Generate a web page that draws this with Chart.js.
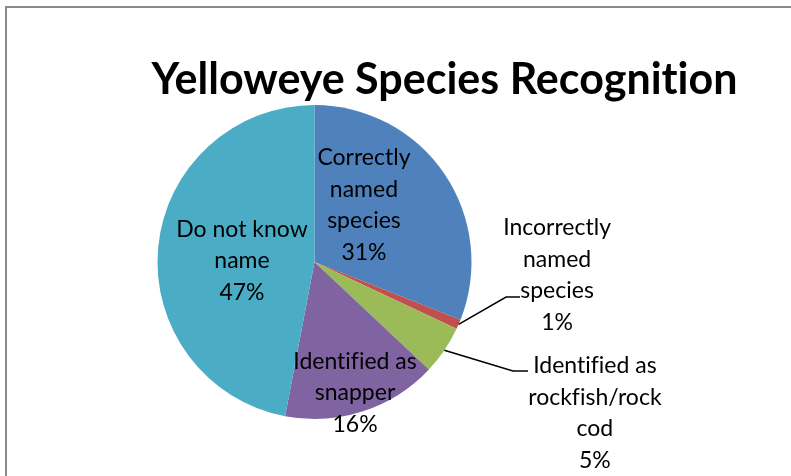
<!DOCTYPE html>
<html>
<head>
<meta charset="utf-8">
<title>Yelloweye Species Recognition</title>
<script src="https://cdn.jsdelivr.net/npm/chart.js@4.4.0/dist/chart.umd.min.js"></script>
<style>
  html, body { margin: 0; padding: 0; background: #fff; width: 791px; height: 476px; overflow: hidden; }
  #caption { position: absolute; left: 20px; top: -24px; font: bold 21px/21px "Liberation Serif", serif; white-space: nowrap; color: #000; }
  #frame { position: absolute; left: 5px; top: 6px; width: 830px; height: 520px; border: 2px solid #8a8a8a; box-sizing: border-box; }
  #wrap { position: absolute; left: 0; top: 0; width: 791px; height: 476px; }
</style>
</head>
<body>
<div id="caption">Figure 9. Yelloweye Rockfish Species Recognition (by type)</div>
<div id="frame"></div>
<div id="wrap"><canvas id="pie" width="791" height="476"></canvas></div>
<script>
'use strict';

var chartTitle = "Yelloweye Species Recognition";
var categories = [
  ["Correctly", "named", "species"],
  ["Incorrectly", "named", "species"],
  ["Identified as", "rockfish/rock", "cod"],
  ["Identified as", "snapper"],
  ["Do not know", "name"]
];
var shares = [31, 1, 5, 16, 47];
var sliceColors = ["#4F81BD", "#C0504D", "#9BBB59", "#8064A2", "#4BACC6"];

// where each label sits, in pie radii from the centre; leader = [elbow, end]
var labelSpots = [
  { at: [0.315, -0.363] },
  { at: [1.545, 0.083], leader: [[1.220, 0.223], [1.309, 0.223]] },
  { at: [1.786, 0.962], leader: [[1.264, 0.694], [1.360, 0.694]] },
  { at: [0.258, 0.834] },
  { at: [-0.462, -0.006] }
];

var labelFont = '23px Lato, "Open Sans", sans-serif';
var lineStep = 31.5;

// Lato joins "fi"/"ti" into ligatures, keep the letters apart
function noLig(s) {
  return s.replace(/([ft])(?=i)/g, "$1\u200C");
}

var pieLabels = {
  id: "pieLabels",
  afterDatasetsDraw: function (chart) {
    var ctx = chart.ctx;
    var meta = chart.getDatasetMeta(0);
    var data = chart.data.datasets[0].data;
    var total = data.reduce(function (a, b) { return a + b; }, 0);

    ctx.save();
    // chart title
    ctx.fillStyle = "#000";
    ctx.font = 'bold 43px Lato, "Open Sans", sans-serif';
    ctx.textAlign = "center";
    ctx.textBaseline = "alphabetic";
    ctx.fillText(noLig(chartTitle), 444.5, 94);

    ctx.font = labelFont;
    ctx.textBaseline = "middle";
    meta.data.forEach(function (arc, i) {
      var p = arc.getProps(["x", "y", "startAngle", "endAngle", "outerRadius"], true);
      var r = p.outerRadius;
      var spot = labelSpots[i];
      var lx = p.x + spot.at[0] * r;
      var ly = p.y + spot.at[1] * r;

      if (spot.leader) {
        var mid = (p.startAngle + p.endAngle) / 2;
        ctx.strokeStyle = "#000";
        ctx.lineWidth = 1.5;
        ctx.beginPath();
        ctx.moveTo(p.x + Math.cos(mid) * r, p.y + Math.sin(mid) * r);
        spot.leader.forEach(function (pt) {
          ctx.lineTo(p.x + pt[0] * r, p.y + pt[1] * r);
        });
        ctx.stroke();
      }

      var lines = chart.data.labels[i].concat([Math.round(data[i] / total * 100) + "%"]);
      var top = ly - (lines.length - 1) * lineStep / 2;
      ctx.fillStyle = "#000";
      lines.forEach(function (t, k) {
        ctx.fillText(noLig(t), lx, top + k * lineStep);
      });
    });
    ctx.restore();
  }
};

new Chart(document.getElementById("pie"), {
  type: "pie",
  data: {
    labels: categories,
    datasets: [{
      data: shares,
      backgroundColor: sliceColors,
      borderWidth: 0
    }]
  },
  options: {
    responsive: false,
    animation: false,
    rotation: 0,
    layout: { padding: { left: 157.5, right: 319.5, top: 105, bottom: 57 } },
    plugins: {
      legend: { display: false },
      tooltip: { enabled: false },
      title: { display: false }
    }
  },
  plugins: [pieLabels]
});
</script>
</body>
</html>
